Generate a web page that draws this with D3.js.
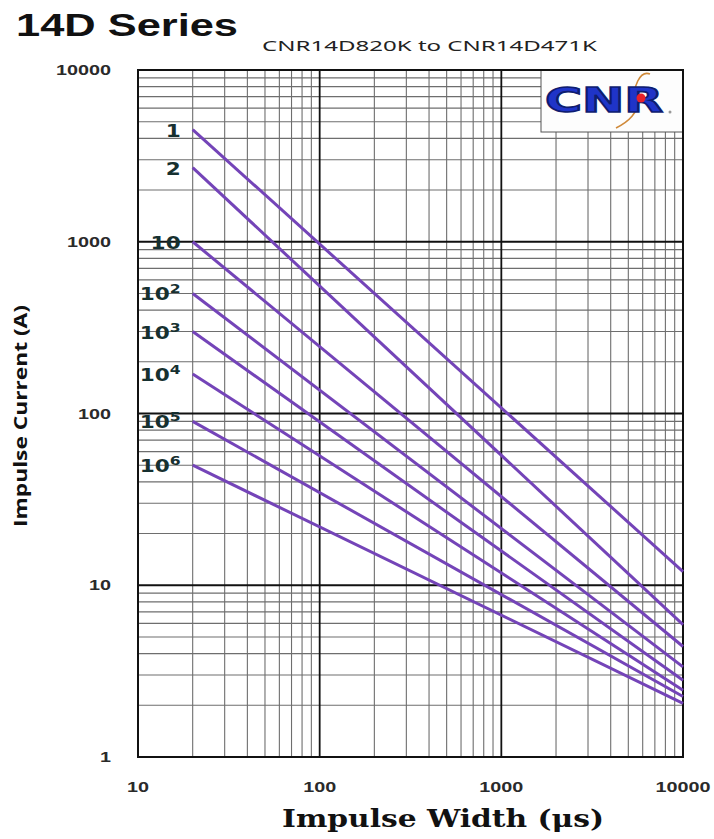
<!DOCTYPE html>
<html>
<head>
<meta charset="utf-8">
<script src="https://cdn.jsdelivr.net/npm/d3@7"></script>
<style>
  html, body { margin: 0; padding: 0; background: #fff; }
  svg { display: block; }
</style>
</head>
<body>
<div id="chart"></div>
<script>
// Impulse derating curves, CNR 14D series
const seriesBase = ['1', '2', '10', '10', '10', '10', '10', '10'];
const seriesExp = ['', '', '', '2', '3', '4', '5', '6'];
const startWidth = 20;        // µs
const endWidth = 10000;       // µs
const startCurrent = [4500, 2700, 1000, 500, 300, 170, 90, 50];
const endCurrent = [12, 5.9, 4.4, 3.35, 2.8, 2.45, 2.25, 2.05];
const xTickLabels = [10, 100, 1000, 10000];
const yTickLabels = [1, 10, 100, 1000, 10000];

const width = 714, height = 839;
const plot = { left: 138, right: 683, top: 70, bottom: 757 };

const svg = d3.select('#chart').append('svg')
  .attr('width', width)
  .attr('height', height);

const x = d3.scaleLog().domain([10, 10000]).range([plot.left, plot.right]);
const y = d3.scaleLog().domain([1, 10000]).range([plot.bottom, plot.top]);

const isMajor = v => Math.abs(Math.log10(v) - Math.round(Math.log10(v))) < 1e-9;

// grid
const grid = svg.append('g').attr('class', 'grid');
grid.selectAll('.vgrid')
  .data(x.ticks().filter(v => !isMajor(v)))
  .join('line')
    .attr('x1', d => x(d)).attr('x2', d => x(d))
    .attr('y1', plot.top).attr('y2', plot.bottom)
    .attr('stroke', '#6e6e6e').attr('stroke-width', 1.1);
grid.selectAll('.hgrid')
  .data(y.ticks().filter(v => !isMajor(v)))
  .join('line')
    .attr('x1', plot.left).attr('x2', plot.right)
    .attr('y1', d => y(d)).attr('y2', d => y(d))
    .attr('stroke', '#6e6e6e').attr('stroke-width', 1.1);
grid.selectAll('.vmajor')
  .data(xTickLabels)
  .join('line')
    .attr('x1', d => x(d)).attr('x2', d => x(d))
    .attr('y1', plot.top).attr('y2', plot.bottom)
    .attr('stroke', '#111').attr('stroke-width', 1.8);
grid.selectAll('.hmajor')
  .data(yTickLabels)
  .join('line')
    .attr('x1', plot.left).attr('x2', plot.right)
    .attr('y1', d => y(d)).attr('y2', d => y(d))
    .attr('stroke', '#111').attr('stroke-width', 1.8);

// logo box (covers grid in the top-right corner)
const logo = svg.append('g').attr('class', 'logo');
logo.append('rect')
  .attr('x', 541).attr('y', plot.top)
  .attr('width', plot.right - 541).attr('height', 62)
  .attr('fill', '#fdfdfd').attr('stroke', '#555').attr('stroke-width', 1);
logo.append('path')
  .attr('d', 'M650,74 C640,70 632,88 636,100 C640,112 628,122 616,128')
  .attr('fill', 'none').attr('stroke', '#d08a3a').attr('stroke-width', 1.6);
logo.append('text')
  .attr('x', 545).attr('y', 112)
  .attr('font-family', 'DejaVu Sans, sans-serif')
  .attr('font-weight', 'bold')
  .attr('font-size', 33)
  .attr('textLength', 118).attr('lengthAdjust', 'spacingAndGlyphs')
  .attr('fill', '#1f34c8')
  .attr('stroke', '#0e1c70').attr('stroke-width', 1.6)
  .text('CNR');
logo.append('circle').attr('cx', 641).attr('cy', 98).attr('r', 4.5).attr('fill', '#e8202a');
logo.append('circle').attr('cx', 670).attr('cy', 112).attr('r', 1.5).attr('fill', '#999');

// border
svg.append('rect')
  .attr('x', plot.left).attr('y', plot.top)
  .attr('width', plot.right - plot.left).attr('height', plot.bottom - plot.top)
  .attr('fill', 'none').attr('stroke', '#111').attr('stroke-width', 2);

// curves
const line = d3.line().x(d => x(d[0])).y(d => y(d[1]));
svg.append('g').attr('class', 'curves')
  .selectAll('path')
  .data(startCurrent.map((s, i) => [[startWidth, s], [endWidth, endCurrent[i]]]))
  .join('path')
    .attr('d', line)
    .attr('fill', 'none')
    .attr('stroke', '#7444b8')
    .attr('stroke-width', 3);

// curve labels
const labels = svg.append('g').attr('class', 'curve-labels')
  .selectAll('text')
  .data(startCurrent)
  .join('text')
    .attr('transform', (d, i) => `translate(${x(startWidth) - 12},${y(d) + 7}) scale(1.2,1)`)
    .attr('text-anchor', 'end')
    .attr('font-family', 'DejaVu Sans, sans-serif')
    .attr('font-weight', 'bold')
    .attr('font-size', 18)
    .attr('fill', '#163030');
labels.append('tspan').text((d, i) => seriesBase[i]);
labels.append('tspan')
  .attr('dy', -7)
  .attr('font-size', 13)
  .text((d, i) => seriesExp[i]);

// tick labels
svg.append('g').attr('class', 'y-ticks')
  .selectAll('text')
  .data(yTickLabels)
  .join('text')
    .attr('x', 111).attr('y', d => y(d))
    .attr('dy', '0.35em')
    .attr('text-anchor', 'end')
    .attr('font-family', 'Liberation Sans, Arial, sans-serif')
    .attr('font-weight', 'bold')
    .attr('font-size', 14.5)
    .attr('textLength', d => String(d).length * 11)
    .attr('lengthAdjust', 'spacingAndGlyphs')
    .attr('fill', '#2a2a2a')
    .text(d => d);

svg.append('g').attr('class', 'x-ticks')
  .selectAll('text')
  .data(xTickLabels)
  .join('text')
    .attr('x', d => x(d)).attr('y', 787)
    .attr('dy', '0.35em')
    .attr('text-anchor', 'middle')
    .attr('font-family', 'Liberation Sans, Arial, sans-serif')
    .attr('font-weight', 'bold')
    .attr('font-size', 14.5)
    .attr('textLength', d => String(d).length * 11)
    .attr('lengthAdjust', 'spacingAndGlyphs')
    .attr('fill', '#2a2a2a')
    .text(d => d);

// titles
svg.append('text')
  .attr('x', 16).attr('y', 36)
  .attr('font-family', 'Liberation Sans, Arial, sans-serif')
  .attr('font-weight', 'bold')
  .attr('font-size', 31)
  .attr('textLength', 222).attr('lengthAdjust', 'spacingAndGlyphs')
  .attr('fill', '#111')
  .text('14D Series');

svg.append('text')
  .attr('x', 262).attr('y', 51)
  .attr('font-family', 'Noto Sans, sans-serif')
  .attr('font-size', 15)
  .attr('textLength', 335).attr('lengthAdjust', 'spacingAndGlyphs')
  .attr('fill', '#222')
  .text('CNR14D820K to CNR14D471K');

svg.append('text')
  .attr('transform', 'translate(27,416) rotate(-90)')
  .attr('text-anchor', 'middle')
  .attr('font-family', 'Open Sans, sans-serif')
  .attr('font-weight', 'bold')
  .attr('font-size', 18)
  .attr('textLength', 222).attr('lengthAdjust', 'spacingAndGlyphs')
  .attr('fill', '#111')
  .text('Impulse Current (A)');

svg.append('text')
  .attr('x', 443).attr('y', 827)
  .attr('text-anchor', 'middle')
  .attr('font-family', 'DejaVu Serif, serif')
  .attr('font-weight', 'bold')
  .attr('font-size', 24)
  .attr('textLength', 322).attr('lengthAdjust', 'spacingAndGlyphs')
  .attr('fill', '#111')
  .text('Impulse Width (μs)');
</script>
</body>
</html>
